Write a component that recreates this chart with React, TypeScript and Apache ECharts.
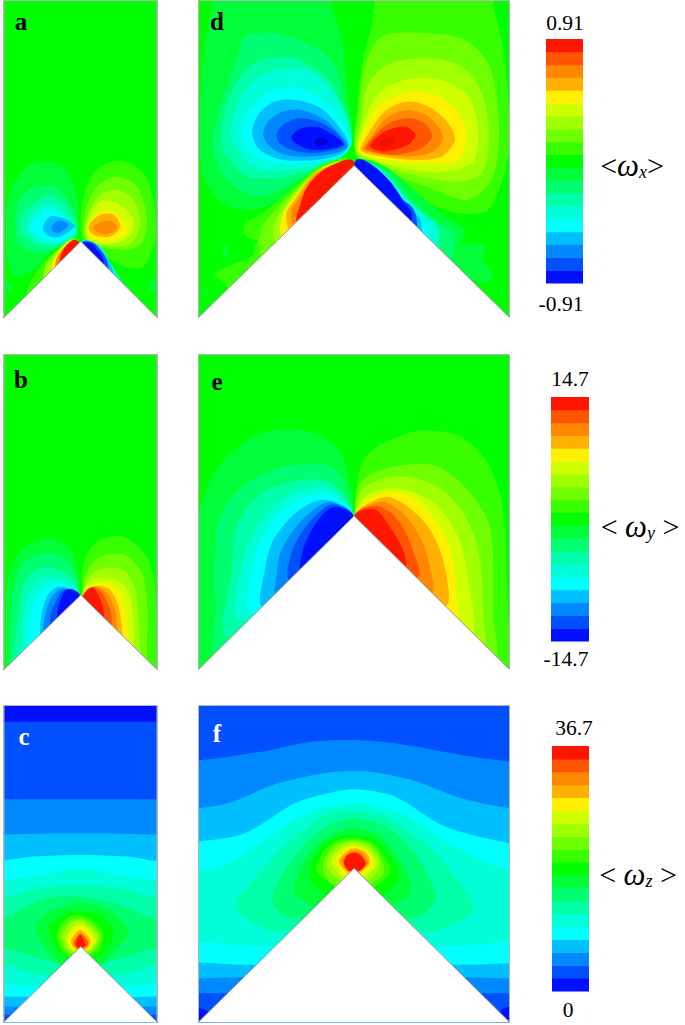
import React, { useEffect, useRef } from "react";
import * as echarts from "echarts";

// Colour scale, index 0 = lowest band, 18 = highest band, 19/20 = peak cores
const bandColors = ["#0010ff","#0050ff","#0088ff","#00bfff","#00ffff","#00ffd8","#00ffa8","#00ff70","#00ff38","#00ff00","#38ff00","#70ff00","#a0ff00","#d0ff00","#fff000","#ffb000","#ff8800","#ff5500","#ff1500","#0000d8","#f01000"];

// Colour-bar tick labels
const ticksX = ["0.91", "-0.91"];
const ticksY = ["14.7", "-14.7"];
const ticksZ = ["36.7", "0"];
const barBands = bandColors.slice(0, 19).map((_, i) => String(i));

type Contour = [number, number[]];

// a band whose upper edge runs across the whole panel and which fills everything below it
const below = (level: number, pts: number[]): Contour => [level, [-400, pts[1], ...pts, 1000, pts[pts.length - 1], 1000, 1500, -400, 1500]];

// Contours: [band, x, y, x, y, ...], in each panel's plot units
const contoursA: Contour[] = [
  [8,[120,95,190,110,225,180,235,290,225,325,150,370,100,420,45,440,20,370,25,200,70,120]],
  [7,[110,170,170,175,215,230,235,305,210,330,130,370,60,350,45,270,65,200]],
  [6,[90,230,150,195,200,230,230,300,205,335,120,350,65,310,60,260]],
  [5,[100,250,150,220,200,260,228,310,190,340,115,335,80,295]],
  [4,[100,270,150,240,200,275,225,310,180,335,120,320,90,295]],
  [3,[128,295,150,260,195,268,222,290,175,322,145,318]],
  [2,[155,290,175,272,205,285,180,308,160,305]],
  [10,[245,320,250,200,290,120,360,92,430,130,460,210,465,330,430,410,370,410,280,355]],
  [11,[255,250,290,170,350,140,410,170,440,260,425,340,380,360,260,335]],
  [12,[258,270,300,195,350,180,400,210,420,280,395,340,330,350,258,330]],
  [13,[260,285,300,215,350,220,395,260,395,310,350,340,270,335]],
  [14,[262,295,300,245,340,250,375,280,380,310,330,335,275,325]],
  [15,[265,290,300,255,340,255,360,290,330,320,280,315]],
  [16,[280,290,310,275,335,275,352,295,325,312,295,308]],
  [8,[20,450,35,470,28,490,18,470]],
  [8,[458,445,468,475,455,490,448,470]],
  [10,[225,322,170,360,120,410,85,470,80,500,90,530,170,450,242,380]],
  [12,[215,328,170,365,140,400,130,440,135,470,160,465,242,360]],
  [14,[215,332,180,360,160,395,152,425,160,455,200,420,242,350]],
  [16,[222,332,190,355,170,385,165,412,175,440,210,400,242,350]],
  [18,[225,330,200,345,185,370,178,400,185,430,210,400,242,350]],
  [7,[245,330,290,345,340,420,390,490,395,525,320,450,242,370]],
  [5,[250,330,300,350,330,400,365,460,360,495,300,430,242,365]],
  [3,[250,333,285,342,320,385,340,430,335,460,285,410,242,360]],
  [1,[250,335,280,340,315,380,325,415,325,445,275,400,242,350]],
  [0,[252,337,275,342,305,380,312,405,312,435,275,400,242,350]],
];

const contoursB: Contour[] = [
  [8,[238,280,232,210,205,140,140,115,65,150,25,230,18,400,20,500,30,540,150,470,242,420]],
  [7,[236,280,225,225,195,175,130,160,70,190,40,270,30,400,28,480,40,530,150,460,242,400]],
  [6,[236,282,218,235,175,210,115,205,70,250,55,340,45,420,40,480,60,520,150,450,242,380]],
  [5,[236,282,212,250,170,235,125,235,85,280,70,345,65,420,60,470,75,500,170,420,242,360]],
  [4,[236,283,205,260,170,250,130,270,95,320,85,400,85,450,100,480,170,410,242,350]],
  [3,[236,283,205,265,170,262,140,290,125,340,120,395,130,440,190,380,242,340]],
  [2,[236,284,208,268,175,270,150,300,135,345,130,395,140,430,190,380,242,340]],
  [1,[238,284,210,270,185,275,165,310,150,350,155,400,200,360,242,340]],
  [0,[238,284,215,268,195,272,178,310,172,350,180,380,210,350,242,340]],
  [10,[245,280,250,190,290,125,370,110,440,170,465,260,468,440,470,505,480,560,350,470,242,420]],
  [11,[247,280,260,215,300,170,375,165,425,220,440,300,440,470,440,520,340,450,242,400]],
  [12,[248,280,270,225,310,205,370,210,405,265,415,350,420,440,425,490,340,430,242,390]],
  [13,[248,280,275,240,320,235,365,250,390,290,400,370,402,435,405,470,330,410,242,380]],
  [14,[250,282,285,255,330,255,365,290,380,370,382,405,385,450,320,400,242,370]],
  [15,[250,283,285,258,330,270,355,320,365,380,365,390,370,430,310,390,242,360]],
  [16,[250,283,285,260,320,280,345,330,350,375,355,420,300,370,242,330]],
  [17,[250,284,280,262,310,285,330,330,335,365,335,400,290,360,242,330]],
  [18,[250,284,275,262,295,285,310,330,312,350,312,380,280,350,242,325]],
];

const contoursC: Contour[] = [
  [0,[-400,65,-400,-300,1000,-300,1000,65,572,65,400,65,240,65,80,65,-100,65]],
  below(2,[-100,298,100,298,240,298,380,298,572,298]),
  below(3,[-100,405,100,402,240,400,380,402,572,405]),
  below(4,[-100,486,10,482,100,470,240,465,380,470,472,484,572,488]),
  below(5,[-100,548,10,540,100,530,240,505,380,530,472,540,572,548]),
  below(6,[-100,600,10,590,130,565,240,560,350,565,472,595,572,605]),
  below(7,[-100,680,10,655,60,630,140,595,240,590,340,610,420,640,472,660,572,685]),
  below(6,[-100,735,10,745,120,775,242,800,360,775,472,745,572,735]),
  below(5,[-100,785,10,795,120,825,242,830,360,825,472,795,572,785]),
  below(4,[-100,848,10,850,120,860,242,860,360,860,472,850,572,848]),
  below(3,[-100,888,10,890,120,892,242,892,360,892,472,890,572,888]),
  below(2,[-100,918,10,920,120,922,242,922,360,922,472,920,572,918]),
  below(1,[-100,945,10,945,120,948,242,948,360,948,472,945,572,945]),
  [8,[105,680,140,640,240,610,340,640,385,695,340,760,300,795,242,800,180,795,150,765]],
  [9,[145,690,180,650,240,635,310,650,340,700,300,770,242,780,190,770]],
  [10,[170,700,200,655,240,645,290,670,310,710,290,760,242,770,190,760]],
  [11,[178,705,205,665,240,655,280,675,302,710,280,755,242,765,200,755]],
  [12,[188,710,210,670,240,662,272,680,295,715,275,750,242,760,205,750]],
  [13,[198,715,220,680,240,672,265,685,288,720,265,750,242,755,215,750]],
  [14,[205,720,225,690,240,680,260,692,280,722,265,750,242,750,218,750]],
  [15,[212,725,228,698,240,690,255,700,272,725,258,748,242,750,225,748]],
  [17,[220,730,232,708,242,700,252,710,265,730,250,745,242,748,232,745]],
  [18,[228,735,240,705,255,735,242,745]],
];

const contoursD: Contour[] = [
  [8,[90,-60,400,-60,410,20,440,120,460,280,472,430,440,470,300,570,200,625,100,620,30,540,15,400,20,250,35,100]],
  [7,[150,110,240,100,340,130,415,190,450,300,470,430,440,465,300,545,190,590,100,545,55,450,70,340,120,200]],
  [6,[190,185,300,175,400,240,450,340,470,430,420,480,280,530,160,530,85,450,90,340,130,240]],
  [5,[230,215,340,210,410,270,455,350,470,430,420,485,280,510,170,500,110,410,130,310,170,250]],
  [4,[140,400,165,330,220,280,290,262,370,290,430,350,468,430,440,470,370,485,250,490,170,460]],
  [3,[172,400,190,345,240,305,300,300,370,320,420,365,462,432,440,462,370,480,260,480,195,450]],
  [2,[205,405,220,365,265,335,320,330,390,360,440,410,458,440,430,458,350,470,270,465,225,440]],
  [1,[245,405,265,375,310,355,370,365,420,395,450,435,420,450,350,460,290,450,255,430]],
  [0,[290,410,320,385,370,382,415,405,445,432,415,445,350,450,305,432]],
  [19,[360,420,380,412,400,425,380,438,362,432]],
  [10,[490,300,505,180,530,80,565,-60,870,-60,900,40,925,150,940,300,945,430,925,530,880,630,790,640,680,600,490,480]],
  [11,[492,330,510,200,560,110,700,100,810,120,880,190,905,300,912,420,890,540,820,600,720,570,490,470]],
  [12,[500,360,520,250,590,190,700,175,800,200,860,280,882,400,860,520,760,545,490,465]],
  [13,[500,390,550,280,640,238,740,240,820,290,850,400,830,490,700,515,495,462]],
  [14,[505,400,560,310,650,275,730,290,790,340,815,410,790,480,680,490,495,460]],
  [15,[510,420,570,335,640,305,710,325,760,370,780,420,740,470,650,480,500,455]],
  [16,[515,430,580,350,640,330,700,350,745,410,715,455,630,470,505,450]],
  [17,[520,430,580,372,640,355,690,370,712,410,670,450,590,465,515,448]],
  [18,[527,432,570,395,630,380,662,405,640,435,570,455,530,445]],
  [20,[555,425,590,412,595,430,565,440]],
  [10,[460,478,380,495,290,570,210,635,145,680,160,715,190,725,170,770,100,800,60,825,90,850,120,900,300,760,478,560]],
  [11,[455,480,375,505,280,590,210,670,190,735,210,775,400,660,478,520,475,486]],
  [12,[455,480,380,505,290,590,240,670,235,700,255,735,400,650,478,520,475,488]],
  [14,[450,482,370,512,300,590,268,635,255,690,270,720,400,650,478,520,475,490]],
  [15,[455,482,360,520,300,600,275,640,280,685,300,720,400,650,478,520,475,490]],
  [16,[455,481,365,522,310,600,290,630,292,670,300,710,400,640,478,520,475,490]],
  [18,[470,480,445,482,380,515,335,565,315,620,305,655,310,700,400,640,478,520,480,490]],
  [8,[490,478,570,500,670,580,750,650,810,690,800,730,870,735,865,780,895,830,860,850,820,830,700,770,478,530]],
  [7,[490,480,570,510,650,600,720,660,780,700,775,760,770,800,550,660,478,530]],
  [6,[490,480,570,515,640,600,700,650,735,690,725,750,550,650,478,530]],
  [5,[490,480,560,515,630,590,690,650,725,680,720,740,550,650,478,530]],
  [4,[488,480,555,518,625,595,670,650,700,680,695,740,550,650,478,530]],
  [3,[488,480,550,515,620,600,660,640,680,670,670,720,550,650,478,530]],
  [1,[485,480,540,512,610,590,650,620,665,655,660,700,550,650,478,530]],
  [0,[485,480,510,482,550,510,590,550,630,610,650,640,640,680,550,640,478,530]],
  [8,[88,735,95,730,100,770,85,770]],
  [10,[185,730,200,750,180,755]],
  [8,[30,865,40,870,30,880]],
  [8,[918,865,928,872,920,880]],
];

const contoursE: Contour[] = [
  [8,[478,497,465,400,440,310,380,255,270,235,170,260,70,350,15,480,-30,700,-30,1000,478,700]],
  [7,[475,495,445,390,410,350,370,340,240,355,130,420,70,520,62,800,65,920,478,700]],
  [6,[475,495,430,415,390,390,310,390,200,430,130,520,110,660,100,860,478,700]],
  [5,[475,495,425,425,380,410,300,425,215,490,150,610,135,810,478,700]],
  [4,[475,495,420,440,370,430,290,460,215,540,175,640,170,790,478,700]],
  [3,[475,495,420,455,370,450,300,490,235,570,210,660,205,770,478,700]],
  [2,[475,495,420,458,385,460,320,510,260,600,245,680,245,730,478,700]],
  [1,[475,495,415,462,380,480,325,540,290,610,285,690,478,650]],
  [0,[475,495,420,470,385,490,350,540,325,600,320,660,478,620]],
  [10,[480,495,490,380,505,330,560,280,680,240,800,260,880,340,925,480,940,800,960,1000,478,700]],
  [11,[480,495,490,410,530,370,620,345,720,345,810,410,885,530,895,800,895,920,478,700]],
  [12,[480,495,500,420,560,385,640,380,730,410,800,480,850,600,865,790,860,890,478,700]],
  [13,[480,495,510,440,570,415,640,420,720,460,790,560,820,690,825,850,478,700]],
  [14,[480,495,520,450,580,425,650,440,720,510,770,610,785,750,785,810,478,700]],
  [15,[480,495,520,460,580,440,640,470,700,530,745,630,750,770,478,680]],
  [16,[480,495,525,465,570,455,630,495,680,570,705,650,710,730,478,650]],
  [17,[480,495,515,470,560,470,610,510,650,590,670,680,478,620]],
  [18,[480,495,510,478,545,480,585,530,625,600,630,650,478,600]],
];

const contoursF: Contour[] = [
  below(2,[-100,190,10,182,200,155,350,125,480,120,600,130,800,165,945,185,1050,190]),
  below(3,[-100,335,10,325,100,310,250,250,400,218,520,215,650,240,800,295,945,325,1050,335]),
  below(4,[-100,435,10,425,150,400,300,310,400,280,480,268,600,290,750,380,945,430,1050,440]),
  below(5,[-100,520,10,512,100,490,250,390,350,335,480,310,620,340,760,430,945,512,1050,520]),
  below(4,[-100,725,10,725,150,738,300,738,478,738,650,738,800,738,945,725,1050,725]),
  below(3,[-100,788,10,788,150,795,478,795,800,795,945,790,1050,790]),
  below(2,[-100,835,10,835,150,832,478,832,800,832,945,835,1050,835]),
  below(1,[-100,880,10,880,150,880,478,880,800,880,945,880,1050,880]),
  [0,[-60,925,10,925,40,935,60,1000,-60,1000]],
  [0,[1010,925,945,920,915,935,900,1000,1010,1000]],
  [6,[120,620,150,570,280,430,400,340,480,335,570,350,700,440,830,600,830,640,780,670,700,695,478,640,250,695,160,660]],
  [7,[232,595,290,480,380,390,480,355,590,390,680,490,720,590,690,640,620,660,478,640,330,660,260,640]],
  [8,[298,570,330,480,400,410,480,385,560,410,625,500,650,570,610,610,478,640,340,610]],
  [9,[342,525,370,450,420,415,480,405,550,425,600,490,612,530,580,575,478,620,380,575]],
  [10,[365,510,390,450,430,420,480,415,535,430,580,490,585,520,560,545,478,600,400,545]],
  [11,[385,490,420,435,480,420,530,435,565,490,560,530,478,570,400,540]],
  [12,[395,490,430,440,480,425,530,445,555,490,540,525,478,560,420,530]],
  [13,[410,480,440,445,480,435,520,450,545,490,525,520,478,550,430,520]],
  [14,[425,480,450,450,480,440,515,455,535,490,515,515,478,540,440,515]],
  [15,[432,485,455,455,480,445,515,460,525,490,505,510,478,530,450,510]],
  [16,[440,480,460,460,480,452,505,462,520,490,495,510,478,520,455,510]],
  [18,[447,490,455,468,478,458,500,468,513,490,500,510,478,516,458,510]],
];

type Panel = { id: string; left: number; top: number; width: number; height: number; xRange: number[]; yRange: number[]; base: number; apex: number[]; contours: Contour[] };

const panels: Panel[] = [
  { id: "a", left: 3.5, top: 0, width: 154, height: 318, xRange: [10, 472], yRange: [-390, 565], base: 9, apex: [242, 335], contours: contoursA },
  { id: "b", left: 3.5, top: 354, width: 154, height: 316, xRange: [10, 472], yRange: [-438, 510], base: 9, apex: [242, 285], contours: contoursB },
  { id: "c", left: 3.5, top: 705, width: 154, height: 317.5, xRange: [10, 472], yRange: [15, 968], base: 1, apex: [242, 740], contours: contoursC },
  { id: "d", left: 198, top: 0, width: 312, height: 318, xRange: [10, 945], yRange: [0, 955], base: 9, apex: [478, 497], contours: contoursD },
  { id: "e", left: 198, top: 354, width: 312, height: 316, xRange: [10, 945], yRange: [10, 960], base: 9, apex: [478, 497], contours: contoursE },
  { id: "f", left: 198, top: 705, width: 312, height: 317.5, xRange: [10, 945], yRange: [15, 968], base: 1, apex: [478, 505], contours: contoursF },
];

const colorBars = [
  { left: 546, top: 39, width: 37, height: 244 },
  { left: 551, top: 397, width: 38, height: 244 },
  { left: 552, top: 746, width: 37, height: 245 },
];

const serif = "'Liberation Serif', 'Times New Roman', serif";

function pairs(a: number[]) {
  const out: number[][] = [];
  for (let i = 0; i < a.length; i += 2) out.push([a[i], a[i + 1]]);
  return out;
}

function buildOption() {
  const grid: any[] = [];
  const xAxis: any[] = [];
  const yAxis: any[] = [];
  const series: any[] = [];

  panels.forEach((p, i) => {
    grid.push({ show: true, left: p.left, top: p.top, width: p.width, height: p.height, backgroundColor: bandColors[p.base], borderWidth: 0 });
    xAxis.push({ type: "value", gridIndex: i, min: p.xRange[0], max: p.xRange[1], show: false });
    yAxis.push({ type: "value", gridIndex: i, min: p.yRange[0], max: p.yRange[1], inverse: true, show: false });
    series.push({
      type: "custom", xAxisIndex: i, yAxisIndex: i, clip: true, silent: true,
      data: p.contours.map((c) => ({ value: [c[1][0], c[1][1], c[0]] })),
      renderItem: (params: any, api: any) => {
        const c = p.contours[params.dataIndex];
        return {
          type: "polygon",
          shape: { points: pairs(c[1]).map((q) => api.coord(q)), smooth: 0.3 },
          style: { fill: bandColors[c[0]] },
        };
      },
    });
    // the white wedge under the apex, and the thin grey frame
    const [xa, xb] = p.xRange;
    const [ya, yb] = p.yRange;
    series.push({
      type: "custom", xAxisIndex: i, yAxisIndex: i, clip: true, silent: true,
      data: [{ value: p.apex }],
      renderItem: (_: any, api: any) => ({
        type: "group",
        children: [
          {
            type: "polygon",
            shape: { points: [[xa, yb], p.apex, [xb, yb], [xb, yb + 40], [xa, yb + 40]].map((q) => api.coord(q)) },
            style: { fill: "#ffffff", stroke: "#9a9a9a", lineWidth: 1 },
          },
          {
            type: "polyline",
            shape: { points: [[xa, yb], [xa, ya], [xb, ya], [xb, yb]].map((q) => api.coord(q)) },
            style: { fill: "none", stroke: "#b4b4b4", lineWidth: 2 },
          },
        ],
      }),
    });
  });

  colorBars.forEach((b, k) => {
    const i = panels.length + k;
    grid.push({ left: b.left, top: b.top, width: b.width, height: b.height });
    xAxis.push({ type: "category", gridIndex: i, data: ["band"], show: false });
    yAxis.push({ type: "category", gridIndex: i, data: barBands, show: false });
    series.push({
      type: "custom", xAxisIndex: i, yAxisIndex: i, silent: true,
      data: barBands.map((b2) => ({ value: ["band", b2] })),
      renderItem: (params: any, api: any) => {
        const c = api.coord([0, params.dataIndex]);
        const s = api.size([1, 1]);
        return {
          type: "rect",
          shape: { x: c[0] - s[0] / 2, y: c[1] - s[1] / 2, width: s[0], height: s[1] + 0.5 },
          style: { fill: bandColors[params.dataIndex] },
        };
      },
    });
  });

  const txt = (x: number, y: number, text: string, fill = "#000", extra: any = {}) => ({
    type: "text", x, y, z: 100,
    style: { text, fill, fontFamily: serif, fontSize: 21.5, textAlign: "center", textVerticalAlign: "middle", ...extra },
  });
  const letter = (x: number, y: number, t: string, fill = "#000") => txt(x, y, t, fill, { fontSize: 25, fontWeight: "bold" });
  const label = (x: number, y: number, t: string) => ({
    type: "text", x, y, z: 100,
    style: {
      text: t, fontFamily: serif, fontSize: 30, fill: "#000", textAlign: "center", textVerticalAlign: "middle",
      rich: {
        o: { fontFamily: serif, fontSize: 31, fontStyle: "italic", fill: "#000" },
        s: { fontFamily: serif, fontSize: 18, fontStyle: "italic", fill: "#000", padding: [14, 0, 0, 0] },
        n: { fontFamily: serif, fontSize: 30, fill: "#000" },
      },
    },
  });

  return {
    animation: false,
    backgroundColor: "#ffffff",
    grid, xAxis, yAxis, series,
    graphic: [
      letter(21, 21, "a"), letter(21, 379, "b"), letter(24, 736, "c", "#fff"),
      letter(217, 21, "d"), letter(217, 381, "e"), letter(217, 733, "f", "#fff"),
      txt(565, 23, ticksX[0]), txt(561, 304, ticksX[1]),
      txt(570, 379, ticksY[0]), txt(566, 659, ticksY[1]),
      txt(574, 728, ticksZ[0]), txt(568, 1010, ticksZ[1]),
      label(632, 165, "{n|<}{o|ω}{s|x}{n|>}"),
      label(640, 526, "{n|< }{o|ω}{s|y}{n| >}"),
      label(638, 874, "{n|< }{o|ω}{s|z}{n| >}"),
    ],
  };
}

export default function App() {
  const ref = useRef<HTMLDivElement>(null);
  useEffect(() => {
    document.body.style.margin = "0";
    const chart = echarts.init(ref.current!, undefined, { renderer: "svg" });
    chart.setOption(buildOption() as any);
    return () => chart.dispose();
  }, []);
  return <div ref={ref} style={{ width: 685, height: 1025 }} />;
}
